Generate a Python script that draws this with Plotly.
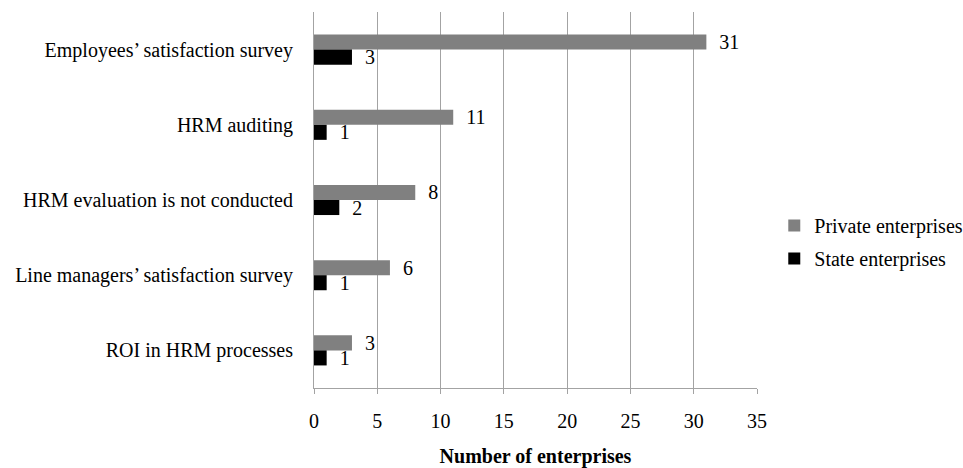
import plotly.graph_objects as go

categories = [
    "Employees’ satisfaction survey",
    "HRM auditing",
    "HRM evaluation is not conducted",
    "Line managers’ satisfaction survey",
    "ROI in HRM processes",
]
private_vals = [31, 11, 8, 6, 3]
state_vals = [3, 1, 2, 1, 1]
x_ticks = [0, 5, 10, 15, 20, 25, 30, 35]

FONT = "Liberation Serif"
FS = 20
GRID = "#a3a3a3"
PAD = "\u00a0\u00a0"

fig = go.Figure()
fig.add_trace(go.Bar(
    y=categories, x=private_vals, orientation="h", name="Private enterprises",
    marker=dict(color="#808080", line=dict(width=0)),
    text=[PAD + str(v) for v in private_vals], textposition="outside",
    constraintext="none",
    textfont=dict(family=FONT, size=FS, color="black"), cliponaxis=False,
    legendgroup="p",
))
fig.add_trace(go.Bar(
    y=categories, x=state_vals, orientation="h", name="State enterprises",
    marker=dict(color="#000000", line=dict(width=0)),
    text=[PAD + str(v) for v in state_vals], textposition="outside",
    constraintext="none",
    textfont=dict(family=FONT, size=FS, color="black"), cliponaxis=False,
    legendgroup="s",
))

fig.update_layout(
    width=963, height=468,
    margin=dict(l=313.5, r=205.5, t=11.5, b=80.4, autoexpand=False),
    paper_bgcolor="white", plot_bgcolor="white",
    barmode="group", bargap=0.6, bargroupgap=0,
    font=dict(family=FONT, size=FS, color="black"),
    showlegend=True,
    legend=dict(x=1.039, xanchor="left", y=0.3885, yanchor="middle",
                font=dict(family=FONT, size=FS, color="black"),
                tracegroupgap=4, bgcolor="rgba(0,0,0,0)", itemwidth=30),
    uniformtext=dict(mode=False),
)
fig.update_xaxes(
    range=[0, 35], tickvals=x_ticks, ticktext=[str(t) for t in x_ticks],
    showgrid=True, gridcolor=GRID, gridwidth=1,
    showline=True, linecolor=GRID, linewidth=1,
    ticks="outside", ticklen=5, tickcolor=GRID, tickwidth=1,
    ticklabelstandoff=10, zeroline=False,
    tickfont=dict(family=FONT, size=FS, color="black"),
    title=dict(text="<b>Number of enterprises</b>", standoff=22,
               font=dict(family=FONT, size=FS, color="black")),
    fixedrange=True,
)
fig.update_yaxes(
    autorange="reversed", categoryorder="array", categoryarray=categories,
    showline=True, linecolor=GRID, linewidth=1, showgrid=False,
    ticks="", ticklabelstandoff=16,
    tickfont=dict(family=FONT, size=FS, color="black"),
    fixedrange=True,
)

fig.write_html("out.html")
